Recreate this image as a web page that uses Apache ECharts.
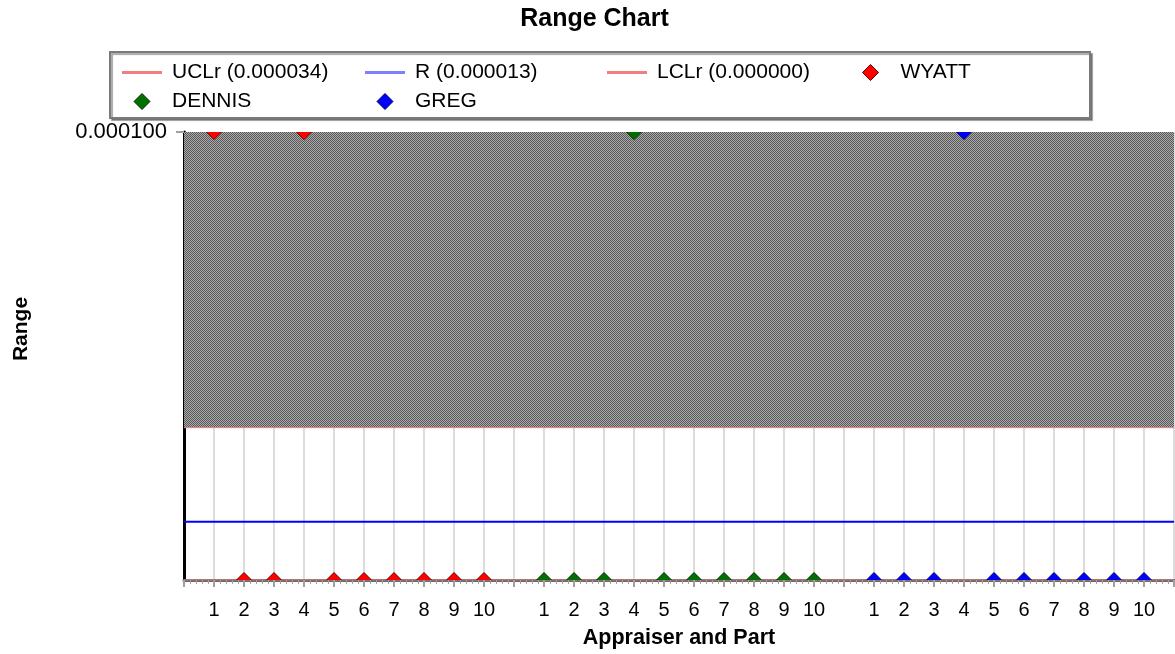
<!DOCTYPE html>
<html><head><meta charset="utf-8">
<script src="https://cdn.jsdelivr.net/npm/echarts@6/dist/echarts.min.js"></script>
<style>html,body{margin:0;padding:0;background:#fff}#c{width:1175px;height:654px}</style>
</head><body><div id="c"></div>
<script>
// ---- data ----
const partLabels = ['1','2','3','4','5','6','7','8','9','10'];
const appraisers = ['WYATT', 'DENNIS', 'GREG'];
const appraiserStart = [1, 12, 23];
const wyattRanges  = [0.0001, 0, 0, 0.0001, 0, 0, 0, 0, 0, 0];
const dennisRanges = [0, 0, 0, 0.0001, 0, 0, 0, 0, 0, 0];
const gregRanges   = [0, 0, 0, 0.0001, 0, 0, 0, 0, 0, 0];
const uclR = 0.000034;
const rBar = 0.000013;
const lclR = 0.000000;
const yTickValues = [0.0001];
const xMin = 0, xMax = 33;
const yMin = 0, yMax = 0.0001;

// ---- derived ----
const xTickLabels = new Array(xMax + 1).fill('');
appraiserStart.forEach(s => partLabels.forEach((p, i) => { xTickLabels[s + i] = p; }));
const FONT = "'Liberation Sans', Arial, sans-serif";
const uclName = 'UCLr (' + uclR.toFixed(6) + ')';
const rName = 'R (' + rBar.toFixed(6) + ')';
const lclName = 'LCLr (' + lclR.toFixed(6) + ')';
const COL = { ucl: '#f08080', r: '#0000ff', rIcon: '#8080ff', lcl: '#f08080',
  fills: ['#ff0000', '#007000', '#0000ff'], strokes: ['#600000', '#002800', '#000060'] };

const pc = document.createElement('canvas');
pc.width = 2; pc.height = 2;
const g = pc.getContext('2d');
g.fillStyle = '#aaaaaa'; g.fillRect(0, 0, 2, 2);
g.fillStyle = '#585858'; g.fillRect(0, 0, 1, 1); g.fillRect(1, 1, 1, 1);

function diamondSeries(idx, ranges) {
  const fill = COL.fills[idx], stroke = COL.strokes[idx], start = appraiserStart[idx];
  return {
    name: appraisers[idx], type: 'custom', clip: true, z: 5,
    itemStyle: { color: fill, borderColor: stroke, borderWidth: 1 },
    encode: { x: 0, y: 1 },
    data: ranges.map((v, i) => [start + i, v]),
    renderItem: (params, api) => {
      const p = api.coord([api.value(0), api.value(1)]);
      const s = 7.5;
      return {
        type: 'polygon',
        shape: { points: [[p[0], p[1] - s], [p[0] + s, p[1]], [p[0], p[1] + s], [p[0] - s, p[1]]] },
        style: { fill: fill, stroke: stroke, lineWidth: 1 }
      };
    }
  };
}

const LINE_ICON = 'path://M0,0H40V3H0Z';
const DIAMOND_ICON = 'path://M7,0L14,7L7,14L0,7Z';
function legendCol(left, items) {
  return {
    orient: 'vertical', left: left, top: 62, padding: 0,
    itemWidth: 40, itemHeight: 16, itemGap: 8, z: 5,
    textStyle: { fontFamily: FONT, fontSize: 21, lineHeight: 20, color: '#000', padding: [0, 0, 0, 5] },
    data: items
  };
}
const lineItem = (name, color) => ({ name, icon: LINE_ICON, itemStyle: { color: color, borderWidth: 0 } });
const diaItem = (idx) => ({ name: appraisers[idx], icon: DIAMOND_ICON,
  itemStyle: { color: COL.fills[idx], borderColor: COL.strokes[idx], borderWidth: 1 } });

const chart = echarts.init(document.getElementById('c'), null, { renderer: 'canvas' });
chart.setOption({
  animation: false,
  backgroundColor: '#fff',
  textStyle: { fontFamily: FONT },
  title: {
    text: 'Range Chart', left: 589.5, top: 2, textAlign: 'center',
    textStyle: { fontSize: 25, fontWeight: 'bold', color: '#000', fontFamily: FONT }
  },
  graphic: [{
    type: 'rect', z: 1, silent: true,
    shape: { x: 110, y: 52, width: 980, height: 66 },
    style: { fill: '#fff', stroke: '#7a7a7a', lineWidth: 2,
      shadowColor: 'rgba(0,0,0,0.35)', shadowOffsetX: 2, shadowOffsetY: 2, shadowBlur: 1 }
  }],
  legend: [
    legendCol(122, [lineItem(uclName, COL.ucl), diaItem(1)]),
    legendCol(365, [lineItem(rName, COL.rIcon), diaItem(2)]),
    legendCol(607, [lineItem(lclName, COL.lcl)]),
    legendCol(862, [diaItem(0)])
  ],
  grid: { left: 184, right: 1, top: 132, bottom: 74, outerBoundsMode: 'none' },
  xAxis: {
    type: 'value', min: xMin, max: xMax, interval: 1,
    axisLine: { show: true, onZero: false, lineStyle: { color: '#6a6a6a', width: 3 } },
    axisTick: { show: true, length: 7, lineStyle: { color: '#a0a0a0', width: 2 } },
    minorTick: { show: true, splitNumber: 5, length: 4, lineStyle: { color: '#a0a0a0', width: 1 } },
    axisLabel: {
      formatter: v => xTickLabels[Math.round(v)] || '',
      fontSize: 20, color: '#000', margin: 20, fontFamily: FONT,
      showMinLabel: true, showMaxLabel: true, hideOverlap: false
    },
    splitLine: { show: true, lineStyle: { color: '#dcdcdc', width: 2 } },
    name: 'Appraiser and Part', nameLocation: 'middle', nameGap: 47,
    nameTextStyle: { fontWeight: 'bold', fontSize: 21.5, color: '#000', fontFamily: FONT }
  },
  yAxis: {
    type: 'value', min: yMin, max: yMax, interval: yMax,
    axisLine: { show: true, lineStyle: { color: '#000', width: 3 } },
    axisTick: { show: true, customValues: yTickValues, length: 8, lineStyle: { color: '#a0a0a0', width: 2 } },
    axisLabel: {
      customValues: yTickValues, formatter: v => Number(v).toFixed(6),
      fontSize: 22, color: '#000', margin: 17, fontFamily: FONT
    },
    splitLine: { show: false },
    name: 'Range', nameLocation: 'middle', nameGap: 152,
    nameTextStyle: { fontWeight: 'bold', fontSize: 21, color: '#000', fontFamily: FONT, padding: [0, 0, 0, 54] }
  },
  series: [
    {
      name: uclName, type: 'line', symbol: 'none', z: 2,
      data: [[xMin, uclR], [xMax, uclR]],
      itemStyle: { color: COL.ucl },
      lineStyle: { color: COL.ucl, width: 1 },
      markArea: {
        silent: true,
        itemStyle: { color: { image: pc, repeat: 'repeat' } },
        data: [[{ yAxis: uclR }, { yAxis: yMax }]]
      }
    },
    {
      name: rName, type: 'line', symbol: 'none', z: 3,
      data: [[xMin, rBar], [xMax, rBar]],
      itemStyle: { color: COL.rIcon },
      lineStyle: { color: COL.r, width: 2 }
    },
    {
      name: lclName, type: 'line', symbol: 'none', z: 1,
      data: [[xMin, lclR], [xMax, lclR]],
      itemStyle: { color: COL.lcl },
      lineStyle: { color: COL.lcl, width: 1 }
    },
    diamondSeries(0, wyattRanges),
    diamondSeries(1, dennisRanges),
    diamondSeries(2, gregRanges)
  ]
});
</script>
</body></html>
